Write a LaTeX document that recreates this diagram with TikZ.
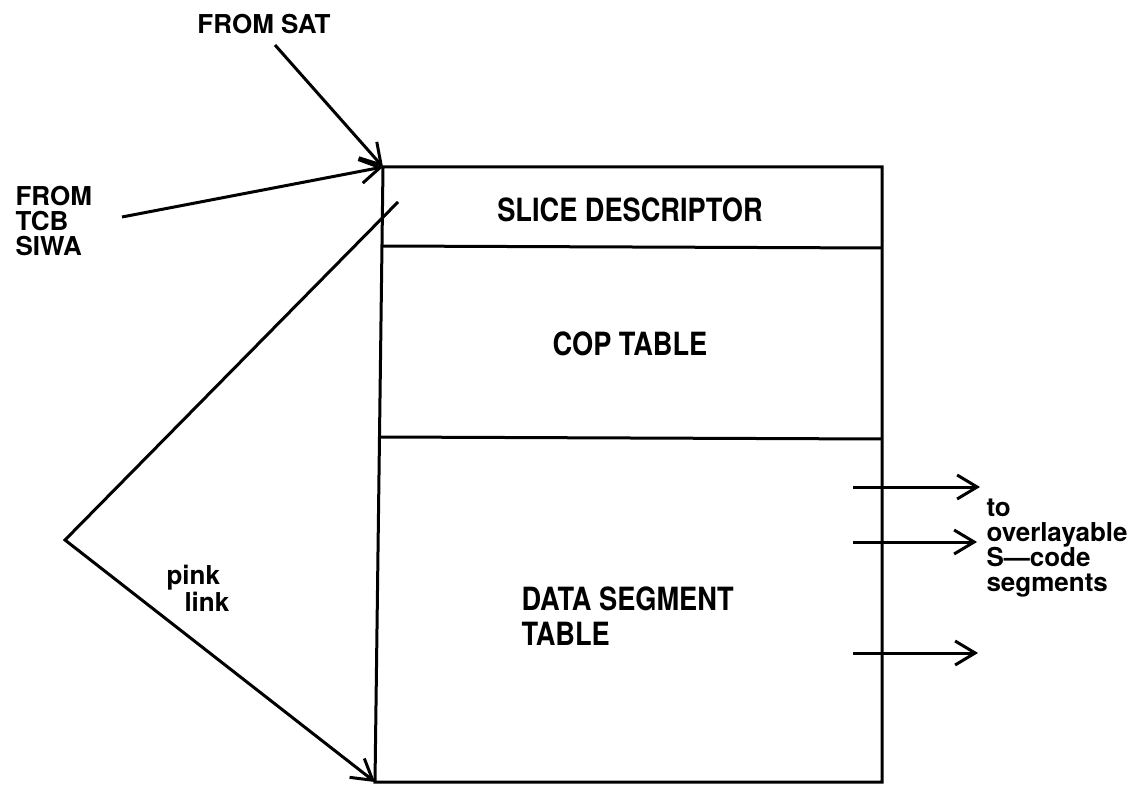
\documentclass[tikz,border=0pt]{standalone}
\usepackage{fontspec}
\newfontfamily\lblfont{TeX Gyre Heros}
\newfontfamily\boxfont[FakeStretch=0.85]{TeX Gyre Heros}
\usepackage{tikz}
\usetikzlibrary{arrows.meta}

\begin{document}
\begin{tikzpicture}[x=0.5pt, y=-0.5pt, line width=1.5pt,
  lbl/.style={font=\lblfont\bfseries\fontsize{13}{12.5}\selectfont, inner sep=0pt, align=left},
  boxlbl/.style={font=\boxfont\bfseries\fontsize{16}{17.5}\selectfont, inner sep=0pt, align=left},
  link/.style={-{Straight Barb[length=10pt,width=12pt,line width=1.5pt]}}]
  \useasboundingbox (0,0) rectangle (1138,790);
  % Slice outline
  \coordinate (tl) at (383,167);
  \coordinate (tr) at (882,167);
  \coordinate (br) at (882,782);
  \coordinate (bl) at (375,782);
  \draw (tl) -- (tr) -- (br) -- (bl) -- cycle;
  % Section dividers
  \draw (381,246) -- (882,248);
  \draw (379,437) -- (882,439);
  % Section labels
  \node[boxlbl] (slice) at (630,210) {SLICE DESCRIPTOR};
  \node[boxlbl] (cop) at (630,344) {COP TABLE};
  \node[boxlbl, anchor=west] (dst) at (520,616) {DATA SEGMENT\\TABLE};
  % Outside labels
  \node[lbl] (sat) at (264,24) {FROM SAT};
  \node[lbl, anchor=west] (tcb) at (14,221) {FROM\\TCB\\SIWA};
  \node[lbl, anchor=west] (pink) at (165,588) {pink\\\hspace*{9pt}link};
  \node[lbl, anchor=west] (segs) at (985,548) {to\\overlayable\\S—code\\segments};
  % Arrows into the slice
  \coordinate (satfoot) at (275,45);
  \coordinate (tcbfoot) at (122,217);
  \draw[link] (satfoot) -- (tl);
  \draw[link] (tcbfoot) -- (tl);
  % Pink link back to the bottom
  \coordinate (pinkstart) at (398,202);
  \coordinate (apex) at (65,540);
  \draw[link] (pinkstart) -- (apex) -- (bl);
  % Arrows out to the segments
  \foreach \y/\e in {487/980, 542/977, 653/978} {
    \draw[link] (853,\y) -- (\e,\y);
  }
\end{tikzpicture}
\end{document}
